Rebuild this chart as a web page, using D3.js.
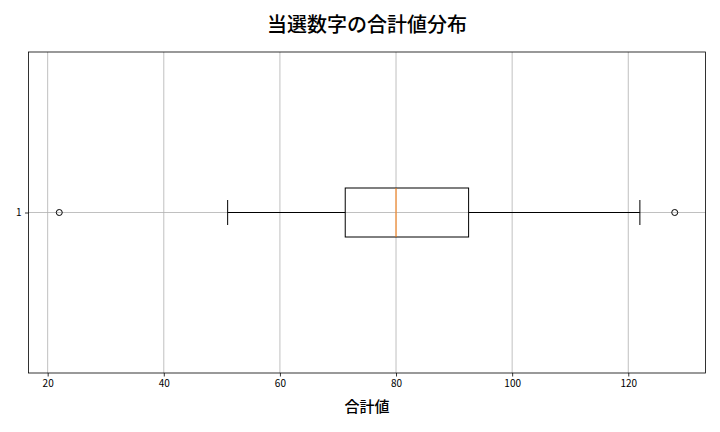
<!DOCTYPE html>
<html><head><meta charset="utf-8">
<script src="https://cdn.jsdelivr.net/npm/d3@7"></script>
<style>body{margin:0;background:#fff}svg{display:block}</style>
</head><body>
<svg id="c" width="720" height="432"></svg>
<script>
const title = "当選数字の合計値分布";
const xLabel = "合計値";
const categories = ["1"];
const whiskerLow = [51];
const q1 = [71.25];
const median = [80];
const q3 = [92.5];
const whiskerHigh = [122];
const outliers = [22, 128];
const xTicks = [20, 40, 60, 80, 100, 120];

const svg = d3.select("#c");
const L = 28.5, R = 705.5, T = 52, B = 373;
const x = d3.scaleLinear().domain([16.7, 133.3]).range([L, R]);
const y = d3.scalePoint().domain(categories).range([T, B]).padding(0.5);
const font = "'Noto Sans CJK JP', 'Noto Sans', sans-serif";

// grid
svg.append("g").selectAll("line").data(xTicks).join("line")
  .attr("x1", d => x(d)).attr("x2", d => x(d)).attr("y1", T).attr("y2", B)
  .attr("stroke", "#b0b0b0").attr("stroke-width", 0.8);
svg.append("g").selectAll("line").data(categories).join("line")
  .attr("x1", L).attr("x2", R).attr("y1", d => y(d)).attr("y2", d => y(d))
  .attr("stroke", "#b0b0b0").attr("stroke-width", 0.8);

const bh = 49, cap = 25;
categories.forEach((c, i) => {
  const cy = y(c);
  const g = svg.append("g");
  g.append("line").attr("x1", x(whiskerLow[i])).attr("x2", x(q1[i])).attr("y1", cy).attr("y2", cy).attr("stroke", "#000");
  g.append("line").attr("x1", x(q3[i])).attr("x2", x(whiskerHigh[i])).attr("y1", cy).attr("y2", cy).attr("stroke", "#000");
  [whiskerLow[i], whiskerHigh[i]].forEach(v => g.append("line").attr("x1", x(v)).attr("x2", x(v)).attr("y1", cy - cap/2).attr("y2", cy + cap/2).attr("stroke", "#000"));
  g.append("rect").attr("x", x(q1[i])).attr("y", cy - bh/2).attr("width", x(q3[i]) - x(q1[i])).attr("height", bh)
    .attr("fill", "none").attr("stroke", "#000");
  g.append("line").attr("x1", x(median[i])).attr("x2", x(median[i])).attr("y1", cy - bh/2).attr("y2", cy + bh/2).attr("stroke", "#ff7f0e");
  g.selectAll("circle").data(outliers).join("circle").attr("cx", d => x(d)).attr("cy", cy).attr("r", 3)
    .attr("fill", "none").attr("stroke", "#000");
});

// axes
const xa = svg.append("g").attr("transform", `translate(0,${B})`)
  .call(d3.axisBottom(x).tickValues(xTicks).tickSize(3.5).tickPadding(3.5).tickFormat(d3.format("d")));
const ya = svg.append("g").attr("transform", `translate(${L},0)`)
  .call(d3.axisLeft(y).tickSize(3.5).tickPadding(3.5));
[xa, ya].forEach(a => {
  a.select(".domain").remove();
  a.selectAll("text").attr("font-family", font).attr("font-size", 10).attr("fill", "#000");
  a.selectAll("line").attr("stroke", "#000").attr("stroke-width", 0.8);
});
svg.append("rect").attr("x", L).attr("y", T).attr("width", R - L).attr("height", B - T)
  .attr("fill", "none").attr("stroke", "#000").attr("stroke-width", 0.8);

svg.append("text").attr("x", (L + R) / 2).attr("y", 32).attr("text-anchor", "middle")
  .attr("font-family", font).attr("font-size", 20).attr("font-weight", 500).text(title);
svg.append("text").attr("x", (L + R) / 2).attr("y", 412).attr("text-anchor", "middle")
  .attr("font-family", font).attr("font-size", 15).attr("font-weight", 500).text(xLabel);
</script>
</body></html>
